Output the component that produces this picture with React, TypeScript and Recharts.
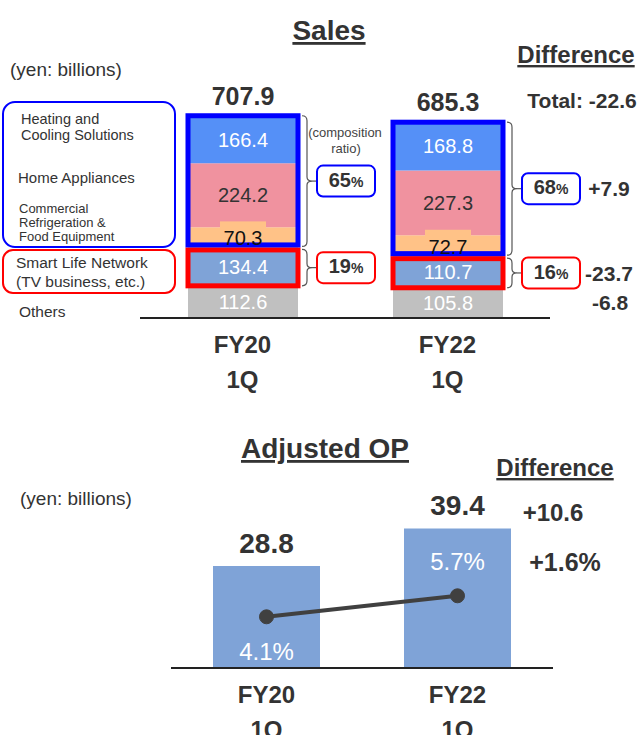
import React from 'react';
import { BarChart, Bar, XAxis, YAxis, LabelList, ComposedChart, Line } from 'recharts';

const FONT = '"Liberation Sans", Arial, Helvetica, sans-serif';
const TXT = '#333333';

// ---- Sales (yen: billions) ----
const categories = ['FY20 1Q', 'FY22 1Q'];
const heating = [166.4, 168.8];
const homeAppliances = [224.2, 227.3];
const commercial = [70.3, 72.7];
const smartLife = [134.4, 110.7];
const others = [112.6, 105.8];
const salesTotal = [707.9, 685.3];
const mainRatio = ['65', '68'];
const smartRatio = ['19', '16'];
const salesDiffTotal = 'Total: -22.6';
const salesDiffMain = '+7.9';
const salesDiffSmart = '-23.7';
const salesDiffOthers = '-6.8';

// ---- Adjusted OP (yen: billions) ----
const opValues = [28.8, 39.4];
const opMargin = [4.1, 5.7];
const opDiffValue = '+10.6';
const opDiffMargin = '+1.6%';

const C_HEAT = '#5590F7';
const C_HOME = '#F0929F';
const C_COMM = '#FFC287';
const C_SMART = '#7FA3D7';
const C_OTHER = '#C0C0C0';
const C_BLUE = '#0000FF';
const C_RED = '#FF0000';

const salesData = categories.map((cat, i) => ({
  cat,
  heating: heating[i],
  home: homeAppliances[i],
  commercial: commercial[i],
  smart: smartLife[i],
  others: others[i],
  total: salesTotal[i],
  mainGroup: heating[i] + homeAppliances[i] + commercial[i],
  mainRatio: mainRatio[i],
  smartRatio: smartRatio[i],
}));

const opData = categories.map((cat, i) => ({ cat, op: opValues[i], margin: opMargin[i] }));

function box(p: any) {
  const vb = p.viewBox || {};
  const x = vb.x ?? p.x;
  const y = vb.y ?? p.y;
  const width = vb.width ?? p.width;
  const height = vb.height ?? p.height;
  return { x, y, width, height };
}

const CatTick = (props: any) => {
  const { x, y, payload } = props;
  const [a, b] = String(payload.value).split(' ');
  return (
    <g>
      <text x={x} y={y + 34.5} textAnchor="middle" fontFamily={FONT} fontWeight="bold" fontSize={24} fill={TXT}>{a}</text>
      <text x={x} y={y + 69.5} textAnchor="middle" fontFamily={FONT} fontWeight="bold" fontSize={24} fill={TXT}>{b}</text>
    </g>
  );
};

const segLabel = (color: string) => (p: any) => {
  const { x, y, width, height } = box(p);
  return (
    <text x={x + width / 2} y={y + height / 2} dy="0.35em" textAnchor="middle" fontFamily={FONT} fontSize={20} fill={color}>
      {p.value}
    </text>
  );
};

const commLabel = (p: any) => {
  const { x, y, width, height } = box(p);
  const cx = x + width / 2;
  const cy = y + height / 2;
  return (
    <g>
      <rect x={cx - 23} y={cy - 16} width={46} height={16} fill={C_COMM} />
      <text x={cx} y={cy + 1} dy="0.35em" textAnchor="middle" fontFamily={FONT} fontSize={20} fill="#111">{p.value}</text>
    </g>
  );
};

const totalLabel = (p: any) => {
  const { x, y, width } = box(p);
  return (
    <text x={x + width / 2} y={y - 11} textAnchor="middle" fontFamily={FONT} fontWeight="bold" fontSize={25} fill={TXT}>
      {p.value}
    </text>
  );
};

function bracketGroup(x: number, y1: number, y2: number, color: string, ratio: string, diff: string | null) {
  const xs = x + 4;
  const xv = x + 9;
  const tip = x + 14;
  const bx = x + 19;
  const mid = (y1 + y2) / 2;
  const d = `M ${xs} ${y1} Q ${xv} ${y1} ${xv} ${y1 + 5} L ${xv} ${mid - 4} Q ${xv} ${mid} ${tip} ${mid} Q ${xv} ${mid} ${xv} ${mid + 4} L ${xv} ${y2 - 5} Q ${xv} ${y2} ${xs} ${y2}`;
  return (
    <g>
      <path d={d} fill="none" stroke="#555" strokeWidth={1.2} />
      <line x1={tip} y1={mid} x2={bx} y2={mid} stroke="#555" strokeWidth={1.2} />
      <rect x={bx} y={mid - 15.5} width={58} height={31} rx={6} ry={6} fill="#fff" stroke={color} strokeWidth={2} />
      <text x={bx + 29} y={mid} dy="0.36em" textAnchor="middle" fontFamily={FONT} fontWeight="bold" fill={TXT}>
        <tspan fontSize={20}>{ratio}</tspan>
        <tspan fontSize={14}>%</tspan>
      </text>
      {diff ? (
        <text x={609} y={mid} dy="0.36em" textAnchor="middle" fontFamily={FONT} fontWeight="bold" fontSize={21} fill={TXT}>{diff}</text>
      ) : null}
    </g>
  );
}

const mainBracket = (p: any) => {
  const { x, y, width, height } = box(p);
  const i = p.index;
  return bracketGroup(x + width, y, y + height - 1, C_BLUE, salesData[i]?.mainRatio ?? p.value, i === 1 ? salesDiffMain : null);
};

const smartBracket = (p: any) => {
  const { x, y, width, height } = box(p);
  const i = p.index;
  return bracketGroup(x + width, y + 2, y + height, C_RED, salesData[i]?.smartRatio ?? p.value, i === 1 ? salesDiffSmart : null);
};

const othersLabel = (p: any) => {
  const { x, y, width, height } = box(p);
  const i = p.index;
  return (
    <g>
      <text x={x + width / 2} y={y + height / 2} dy="0.35em" textAnchor="middle" fontFamily={FONT} fontSize={20} fill="#fff">{p.value}</text>
      {i === 1 ? (
        <text x={610} y={y + height / 2} dy="0.36em" textAnchor="middle" fontFamily={FONT} fontWeight="bold" fontSize={21} fill={TXT}>{salesDiffOthers}</text>
      ) : null}
    </g>
  );
};

const outlineShape = (color: string, inset: 'bottom' | 'top') => (p: any) => {
  const { x, y, width, height } = p;
  const yy = inset === 'top' ? y + 2.5 : y;
  const hh = height - 2.5;
  return <rect x={x} y={yy} width={width} height={hh} fill="none" stroke={color} strokeWidth={5} />;
};

const opTopLabel = (p: any) => {
  const { x, y, width } = box(p);
  return (
    <text x={x + width / 2} y={y - 13} textAnchor="middle" fontFamily={FONT} fontWeight="bold" fontSize={28} fill={TXT}>{p.value}</text>
  );
};

const marginLabel = (p: any) => {
  const vb = p.viewBox || {};
  const x = vb.x ?? p.x;
  const y = vb.y ?? p.y;
  const i = p.index;
  const cy = i === 0 ? y + 35 : y - 34;
  return (
    <text x={x} y={cy} dy="0.36em" textAnchor="middle" fontFamily={FONT} fontSize={24} fill="#fff">{`${p.value}%`}</text>
  );
};

export default function App() {
  return (
    <div style={{ position: 'absolute', left: 0, top: 0, width: 641, height: 735, background: '#fff', overflow: 'hidden', fontFamily: FONT }}>
      {/* Sales chart */}
      <div style={{ position: 'absolute', left: 0, top: 0 }}>
        <BarChart width={641} height={400} data={salesData} margin={{ top: 110, right: 91, left: 140, bottom: 0 }}>
          <XAxis dataKey="cat" tickLine={false} tickSize={0} tickMargin={0} interval={0} height={82}
            axisLine={{ stroke: '#222', strokeWidth: 2 }} tick={<CatTick />} />
          <XAxis xAxisId="o" dataKey="cat" hide />
          <YAxis hide domain={[0, 728]} />
          <Bar dataKey="others" stackId="s" fill={C_OTHER} barSize={110} isAnimationActive={false}>
            <LabelList dataKey="others" content={othersLabel} />
          </Bar>
          <Bar dataKey="smart" stackId="s" fill={C_SMART} barSize={110} isAnimationActive={false}>
            <LabelList dataKey="smart" content={segLabel('#fff')} />
          </Bar>
          <Bar dataKey="commercial" stackId="s" fill={C_COMM} barSize={110} isAnimationActive={false}>
            <LabelList dataKey="commercial" content={commLabel} />
          </Bar>
          <Bar dataKey="home" stackId="s" fill={C_HOME} barSize={110} isAnimationActive={false}>
            <LabelList dataKey="home" content={segLabel('#333')} />
          </Bar>
          <Bar dataKey="heating" stackId="s" fill={C_HEAT} barSize={110} isAnimationActive={false}>
            <LabelList dataKey="heating" content={segLabel('#fff')} />
            <LabelList dataKey="total" content={totalLabel} />
          </Bar>
          <Bar xAxisId="o" dataKey="others" stackId="o" fill="none" barSize={110} isAnimationActive={false} shape={() => <g />} />
          <Bar xAxisId="o" dataKey="smart" stackId="o" barSize={110} isAnimationActive={false} shape={outlineShape(C_RED, 'top')}>
            <LabelList dataKey="smartRatio" content={smartBracket} />
          </Bar>
          <Bar xAxisId="o" dataKey="mainGroup" stackId="o" barSize={110} isAnimationActive={false} shape={outlineShape(C_BLUE, 'bottom')}>
            <LabelList dataKey="mainRatio" content={mainBracket} />
          </Bar>
        </BarChart>
      </div>

      {/* Adjusted OP chart */}
      <div style={{ position: 'absolute', left: 0, top: 400 }}>
        <ComposedChart width={641} height={335} data={opData} margin={{ top: 98, right: 88, left: 171, bottom: 0 }}>
          <XAxis dataKey="cat" tickLine={false} tickSize={0} tickMargin={0} interval={0} height={67}
            axisLine={{ stroke: '#222', strokeWidth: 2 }} tick={<CatTick />} />
          <YAxis yAxisId="v" hide domain={[0, 48]} />
          <YAxis yAxisId="m" hide orientation="right" domain={[0.2, 13.15]} />
          <Bar yAxisId="v" dataKey="op" fill={C_SMART} barSize={107} isAnimationActive={false}>
            <LabelList dataKey="op" content={opTopLabel} />
          </Bar>
          <Line yAxisId="m" dataKey="margin" stroke="#404040" strokeWidth={4} isAnimationActive={false}
            dot={{ r: 7, fill: '#404040', stroke: '#404040', strokeWidth: 1 }}>
            <LabelList dataKey="margin" content={marginLabel} />
          </Line>
        </ComposedChart>
      </div>

      {/* Static annotations */}
      <svg width={641} height={735} style={{ position: 'absolute', left: 0, top: 0, pointerEvents: 'none' }}>
        <g fontFamily={FONT} fill={TXT}>
          <text x={329} y={40} textAnchor="middle" fontWeight="bold" fontSize={28} style={{ textDecoration: 'underline' }}>Sales</text>
          <text x={576} y={63} textAnchor="middle" fontWeight="bold" fontSize={24} style={{ textDecoration: 'underline' }}>Difference</text>
          <text x={10} y={76} fontSize={19}>(yen: billions)</text>
          <text x={582} y={108} textAnchor="middle" fontWeight="bold" fontSize={21}>{salesDiffTotal}</text>
          <text x={345} y={137} textAnchor="middle" fontSize={13} fill="#444">(composition</text>
          <text x={346} y={153} textAnchor="middle" fontSize={13} fill="#444">ratio)</text>

          <rect x={3} y={102} width={172} height={145} rx={12} ry={12} fill="none" stroke={C_BLUE} strokeWidth={2} />
          <rect x={3} y={250} width={172} height={43} rx={10} ry={10} fill="none" stroke={C_RED} strokeWidth={2} />
          <text x={21} y={124} fontSize={14.5}>Heating and</text>
          <text x={21} y={140} fontSize={14.5}>Cooling Solutions</text>
          <text x={18} y={183} fontSize={15}>Home Appliances</text>
          <text x={19} y={213} fontSize={13}>Commercial</text>
          <text x={19} y={227} fontSize={13}>Refrigeration &amp;</text>
          <text x={19} y={241} fontSize={13}>Food Equipment</text>
          <text x={16} y={268} fontSize={15.5}>Smart Life Network</text>
          <text x={16} y={287} fontSize={15.5}>(TV business, etc.)</text>
          <text x={19} y={317} fontSize={15.5}>Others</text>

          <text x={325} y={458} textAnchor="middle" fontWeight="bold" fontSize={28} style={{ textDecoration: 'underline' }}>Adjusted OP</text>
          <text x={555} y={476} textAnchor="middle" fontWeight="bold" fontSize={24} style={{ textDecoration: 'underline' }}>Difference</text>
          <text x={20} y={505} fontSize={19}>(yen: billions)</text>
          <text x={553} y={521} textAnchor="middle" fontWeight="bold" fontSize={24}>{opDiffValue}</text>
          <text x={565} y={571} textAnchor="middle" fontWeight="bold" fontSize={25}>{opDiffMargin}</text>
        </g>
      </svg>
    </div>
  );
}
